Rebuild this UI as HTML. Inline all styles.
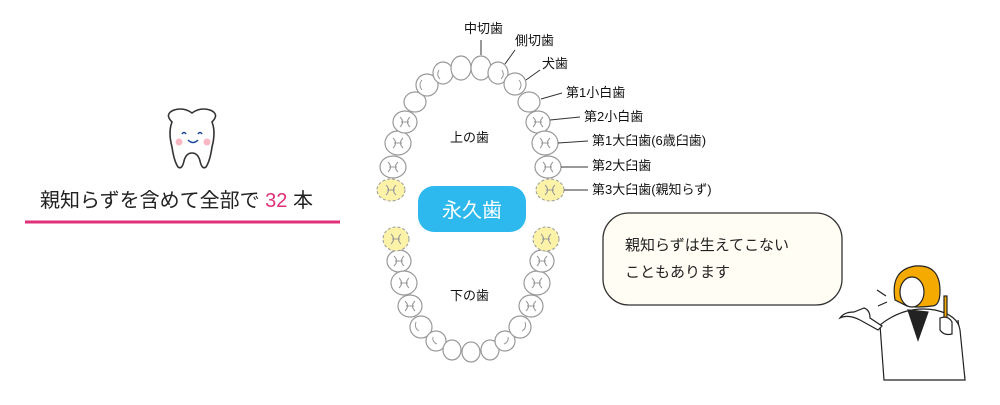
<!DOCTYPE html>
<html><head><meta charset="utf-8"><style>
body{margin:0;width:1000px;height:400px;background:#fff;overflow:hidden;font-family:"Liberation Sans","Noto Sans CJK JP",sans-serif;}
</style></head><body>
<svg width="1000" height="400" viewBox="0 0 1000 400" xmlns="http://www.w3.org/2000/svg" font-family="Liberation Sans, Noto Sans CJK JP, sans-serif">
<defs>
<path id="m" d="M-5 -5 q5 5 0 10 M5 -5 q-5 5 0 10 M-4 0 h8" stroke="#999" stroke-width="1.1" fill="none"/>
</defs>
<!-- mascot -->
<path d="M172 122 q-8 -8 2 -12 q10 -3 18 3 q8 -6 18 -3 q10 4 2 12 q4 10 0 25 q-2 14 -6 20 q-4 3 -6 -6 q-2 -8 -8 -8 q-6 0 -8 8 q-2 9 -6 6 q-4 -6 -6 -20 q-4 -15 0 -25z" fill="#fff" stroke="#333" stroke-width="1.6"/>
<circle cx="179" cy="142" r="3.5" fill="#f7b8c4"/><circle cx="207" cy="142" r="3.5" fill="#f7b8c4"/>
<path d="M182 134 q2 -3 4 0 M198 134 q2 -3 4 0" stroke="#1a4a9a" stroke-width="1.5" fill="none"/>
<path d="M188 140 q5 5 10 0" stroke="#1a4a9a" stroke-width="1.5" fill="none"/>
<text x="40" y="207" font-size="20" fill="#222">親知らずを含めて全部で <tspan fill="#e0307a">32</tspan> 本</text>
<line x1="25" y1="222" x2="340" y2="222" stroke="#e0307a" stroke-width="3"/>
<!-- teeth -->
<g fill="#fff" stroke="#999" stroke-width="1.2">
<ellipse cx="393" cy="167" rx="13" ry="11"/><ellipse cx="398" cy="143" rx="13" ry="12"/><ellipse cx="405" cy="122" rx="12" ry="11"/>
<ellipse cx="415" cy="102" rx="11" ry="10"/><ellipse cx="427" cy="85" rx="11" ry="11"/><ellipse cx="443" cy="73" rx="10" ry="11"/>
<ellipse cx="461" cy="68" rx="10" ry="12"/><ellipse cx="481" cy="68" rx="10" ry="12"/><ellipse cx="498" cy="73" rx="10" ry="11"/>
<ellipse cx="515" cy="84" rx="11" ry="11"/><ellipse cx="529" cy="102" rx="11" ry="10"/><ellipse cx="538" cy="122" rx="12" ry="11"/>
<ellipse cx="545" cy="143" rx="13" ry="12"/><ellipse cx="548" cy="167" rx="13" ry="11"/>
<ellipse cx="399" cy="261" rx="12" ry="11"/><ellipse cx="404" cy="283" rx="13" ry="12"/><ellipse cx="410" cy="306" rx="12" ry="11"/>
<ellipse cx="421" cy="327" rx="11" ry="11"/><ellipse cx="436" cy="341" rx="10" ry="10"/><ellipse cx="452" cy="350" rx="9" ry="10"/>
<ellipse cx="471" cy="352" rx="9" ry="10"/><ellipse cx="490" cy="350" rx="9" ry="10"/><ellipse cx="505" cy="341" rx="10" ry="10"/>
<ellipse cx="520" cy="327" rx="11" ry="11"/><ellipse cx="531" cy="306" rx="12" ry="11"/><ellipse cx="537" cy="283" rx="13" ry="12"/><ellipse cx="542" cy="261" rx="12" ry="11"/>
</g>
<g fill="#fdf3a8" stroke="#999" stroke-width="1" stroke-dasharray="3 2">
<ellipse cx="391" cy="190" rx="14" ry="11"/><ellipse cx="550" cy="190" rx="14" ry="11"/>
<ellipse cx="396" cy="239" rx="13" ry="12"/><ellipse cx="546" cy="239" rx="13" ry="12"/>
</g>
<g>
<use href="#m" x="391" y="190"/><use href="#m" x="550" y="190"/><use href="#m" x="396" y="239"/><use href="#m" x="546" y="239"/>
<use href="#m" x="393" y="167"/><use href="#m" x="398" y="143"/><use href="#m" x="405" y="122"/>
<use href="#m" x="548" y="167"/><use href="#m" x="545" y="143"/><use href="#m" x="538" y="122"/>
<use href="#m" x="399" y="261"/><use href="#m" x="404" y="283"/><use href="#m" x="410" y="306"/>
<use href="#m" x="542" y="261"/><use href="#m" x="537" y="283"/><use href="#m" x="531" y="306"/>
</g>
<g stroke="#999" stroke-width="1" fill="none">
<path d="M422 80 q-4 5 0 10 M439 70 q-3 5 1 9 M519 80 q4 5 0 10 M502 70 q3 5 -1 9"/>
<path d="M416 322 q-2 6 3 9 M433 337 q-1 5 4 7 M525 322 q2 6 -3 9 M508 337 q1 5 -4 7"/>
</g>
<g stroke="#333" stroke-width="1">
<line x1="481" y1="40" x2="481" y2="55"/><line x1="515" y1="50" x2="505" y2="64"/>
<line x1="540" y1="70" x2="526" y2="80"/><line x1="562" y1="93" x2="541" y2="99"/>
<line x1="580" y1="117" x2="550" y2="120"/><line x1="588" y1="141" x2="558" y2="143"/>
<line x1="588" y1="167" x2="561" y2="167"/><line x1="588" y1="190" x2="564" y2="190"/>
</g>
<g font-size="13" fill="#111">
<text x="464" y="33">中切歯</text><text x="515" y="45">側切歯</text><text x="542" y="68">犬歯</text>
<text x="566" y="97">第1小白歯</text><text x="584" y="121">第2小白歯</text><text x="592" y="145">第1大臼歯(6歳臼歯)</text>
<text x="592" y="170">第2大臼歯</text><text x="592" y="194">第3大臼歯(親知らず)</text>
<text x="450" y="142">上の歯</text><text x="450" y="300">下の歯</text>
</g>
<rect x="418" y="186" width="108" height="46" rx="16" fill="#2db8ee"/>
<text x="472" y="217" font-size="20" fill="#fff" text-anchor="middle">永久歯</text>
<rect x="603" y="213" width="239" height="92" rx="26" fill="#fffdf4" stroke="#333" stroke-width="1.3"/>
<text x="625" y="250" font-size="15" fill="#222">親知らずは生えてこない</text>
<text x="625" y="277" font-size="15" fill="#222">こともあります</text>
<!-- person -->
<g stroke="#222" stroke-width="1.2" fill="#fff">
<path d="M894 318 L884 380 M958 320 L965 380" fill="none"/>
<path d="M880 325 Q905 305 935 310 Q958 315 960 330 L965 380 L884 380Z"/>
<path d="M908 310 L918 340 L928 312Z" fill="#222"/>
<path d="M895 300 q-5 -30 20 -34 q25 -2 25 25 q0 15 -8 15 q-15 2 -25 0z" fill="#f4aa00"/>
<ellipse cx="912" cy="292" rx="12" ry="15"/>
<path d="M878 330 L860 320 q-12 -6 -20 -2 q4 -6 14 -6 l10 -4 q6 2 6 10 l12 8z"/>
<rect x="944" y="296" width="3" height="24" fill="#f4aa00"/>
<path d="M940 318 q8 -3 12 4 l0 12 q-8 2 -12 -4z"/>
</g>
<g stroke="#222" stroke-width="1.2"><line x1="877" y1="290" x2="886" y2="296"/><line x1="878" y1="306" x2="887" y2="302"/></g>
</svg>
</body></html>
